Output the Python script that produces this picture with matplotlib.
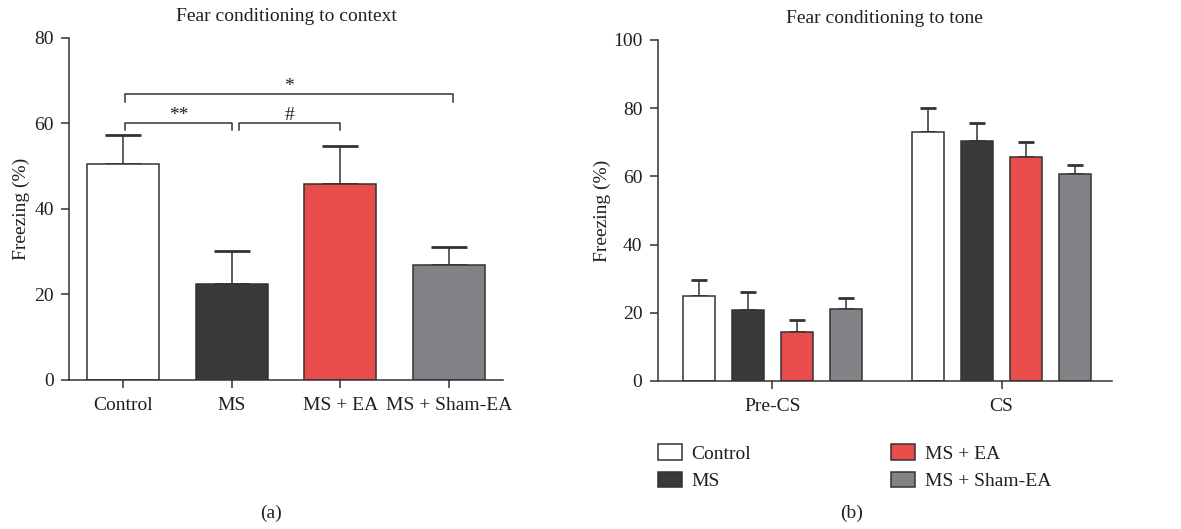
import matplotlib
matplotlib.use('Agg')
import matplotlib.pyplot as plt
import numpy as np

plt.rcParams['font.family'] = ['Liberation Serif', 'DejaVu Serif']

# data
groups = ['Control', 'MS', 'MS + EA', 'MS + Sham-EA']
colors = ['#ffffff', '#3a3a3a', '#e84c4b', '#828387']

context_mean = [50.5, 22.5, 45.8, 26.9]
context_sem = [6.9, 7.7, 8.9, 4.2]

phases = ['Pre-CS', 'CS']
tone_mean = {
    'Control': [25.0, 72.9],
    'MS': [20.7, 70.3],
    'MS + EA': [14.3, 65.6],
    'MS + Sham-EA': [21.2, 60.8],
}
tone_sem = {
    'Control': [4.7, 7.2],
    'MS': [5.3, 5.4],
    'MS + EA': [3.6, 4.6],
    'MS + Sham-EA': [3.1, 2.5],
}

# (group from, group to, label, height)
sig_bars = [(0, 3, '*', 66.8), (0, 1, '**', 60.1), (1, 2, '#', 60.1)]

edge = '#333333'
tc = '#231f20'
fs = 14

fig = plt.figure(figsize=(11.81, 5.29), dpi=100)
ax1 = fig.add_axes([0.0584, 0.2817, 0.3675, 0.6465])
ax2 = fig.add_axes([0.5569, 0.2798, 0.3844, 0.6446])

def style(ax):
    for s in ['top', 'right']:
        ax.spines[s].set_visible(False)
    for s in ['left', 'bottom']:
        ax.spines[s].set_color(edge)
        ax.spines[s].set_linewidth(1.1)
    ax.tick_params(direction='out', length=6, width=1.1, color=edge,
                   labelsize=fs, labelcolor=tc)
    ax.tick_params(axis='x', pad=6)
    ax.tick_params(axis='y', pad=5)

# panel a
x = np.arange(len(groups))
ax1.bar(x, context_mean, width=0.66, color=colors, edgecolor=edge, linewidth=1.1, zorder=2)
ax1.errorbar(x, context_mean, yerr=[np.zeros(len(x)), context_sem], fmt='none',
             ecolor=edge, elinewidth=1.1, capsize=13, capthick=2, zorder=1)
ax1.set_xlim(-0.5, 3.5)
ax1.set_ylim(0, 80)
ax1.set_yticks([0, 20, 40, 60, 80])
ax1.set_xticks(x)
ax1.set_xticklabels(groups)
style(ax1)
ax1.set_ylabel('Freezing (%)', fontsize=fs, color=tc)
ax1.yaxis.set_label_coords(-0.09, 0.5)
ax1.set_title('Fear conditioning to context', fontsize=fs, color=tc, pad=12)

for a, b, lab, h in sig_bars:
    xa = a + 0.02 if a == 0 else a + 0.07
    xb = b + 0.04 if b == 3 else b + 0.0
    ax1.plot([xa, xa, xb, xb], [h - 1.7, h, h, h - 1.7], color=edge, lw=1.1,
             clip_on=False)
    ax1.text((xa + xb) / 2, h - 0.2, lab, ha='center', va='bottom',
             fontsize=fs, color=tc)

# panel b
xp = np.arange(len(phases))
offsets = [-0.32, -0.107, 0.107, 0.32]
handles = []
for i, g in enumerate(groups):
    bb = ax2.bar(xp + offsets[i], tone_mean[g], width=0.14, color=colors[i],
                 edgecolor=edge, linewidth=1.1, zorder=2, label=g)
    ax2.errorbar(xp + offsets[i], tone_mean[g],
                 yerr=[np.zeros(len(xp)), tone_sem[g]], fmt='none',
                 ecolor=edge, elinewidth=1.1, capsize=6, capthick=2, zorder=1)
    handles.append(bb)
ax2.set_xlim(-0.5, 1.48)
ax2.set_ylim(0, 100)
ax2.set_yticks([0, 20, 40, 60, 80, 100])
ax2.set_xticks(xp)
ax2.set_xticklabels(phases)
style(ax2)
ax2.set_ylabel('Freezing (%)', fontsize=fs, color=tc)
ax2.yaxis.set_label_coords(-0.103, 0.5)
ax2.set_title('Fear conditioning to tone', fontsize=fs, color=tc, pad=12)

leg_kw = dict(frameon=False, fontsize=fs, borderpad=0, borderaxespad=0,
              handlelength=1.25, handleheight=0.85, handletextpad=0.5,
              labelspacing=0.45, loc='upper left', labelcolor=tc)
leg1 = fig.legend(handles[:2], groups[:2], bbox_to_anchor=(0.5569, 0.16), **leg_kw)
leg2 = fig.legend(handles[2:], groups[2:], bbox_to_anchor=(0.7545, 0.16), **leg_kw)

fig.text(0.2295, 0.03, '(a)', ha='center', va='center', fontsize=fs, color=tc)
fig.text(0.7214, 0.03, '(b)', ha='center', va='center', fontsize=fs, color=tc)

fig.savefig('out.png', dpi=100)
